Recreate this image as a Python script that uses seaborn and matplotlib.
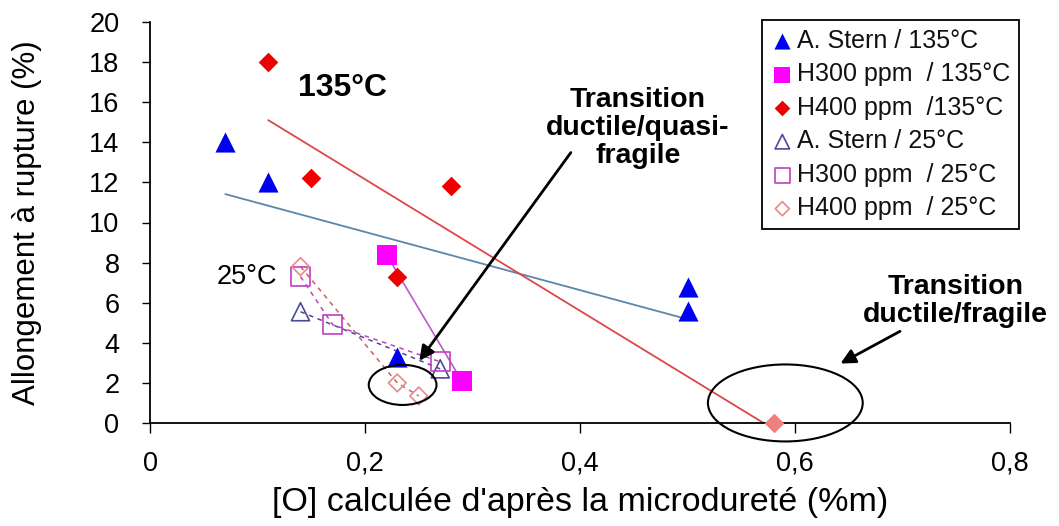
import numpy as np
import pandas as pd
import matplotlib
matplotlib.use("Agg")
import matplotlib.pyplot as plt
from matplotlib.patches import Ellipse
import seaborn as sns

# ---------------- data ----------------
stern_135_x = [0.07, 0.11, 0.23, 0.50, 0.50]
stern_135_y = [14.0, 12.0, 3.3, 6.8, 5.6]

h300_135_x = [0.22, 0.29]
h300_135_y = [8.4, 2.1]

h400_135_x = [0.11, 0.15, 0.28, 0.23, 0.58]
h400_135_y = [18.0, 12.2, 11.8, 7.3, 0.0]

stern_25_x = [0.14, 0.27]
stern_25_y = [5.55, 2.7]

h300_25_x = [0.14, 0.17, 0.27]
h300_25_y = [7.3, 4.9, 3.05]

h400_25_x = [0.14, 0.23, 0.25]
h400_25_y = [7.8, 2.0, 1.35]

x_ticks = [0, 0.2, 0.4, 0.6, 0.8]
x_tick_labels = ["0", "0,2", "0,4", "0,6", "0,8"]
y_ticks = list(range(0, 21, 2))

# ---------------- style ----------------
sns.set_style("ticks")
plt.rcParams["font.family"] = ["Liberation Sans", "DejaVu Sans"]
plt.rcParams["text.color"] = "black"
plt.rcParams["axes.labelcolor"] = "black"

W, H = 1059, 526
fig = plt.figure(figsize=(W / 100, H / 100), dpi=100)
ax = fig.add_axes([150 / W, 1 - 423 / H, (1010 - 150) / W, (423 - 22) / H])

BLUE = "#0000f0"
MAGENTA = "#ff00ff"
RED = "#ee0000"
SALMON = "#f08080"
E_BLUE = "#4a4a9a"
E_MAG = "#c040c0"
E_SAL = "#e58a8a"

# trend lines (135 °C)
sns.regplot(x=stern_135_x, y=stern_135_y, scatter=False, ci=None, truncate=True,
            color="#5d86aa", line_kws=dict(lw=1.3, zorder=1), ax=ax)
sns.regplot(x=h400_135_x, y=h400_135_y, scatter=False, ci=None, truncate=True,
            color="#dc4848", line_kws=dict(lw=1.3, zorder=1), ax=ax)

# connecting lines
sns.lineplot(x=h300_135_x, y=h300_135_y, color="#b95cc8", lw=1.2, ax=ax,
             legend=False, zorder=1)
sns.lineplot(x=stern_25_x, y=stern_25_y, color=E_BLUE, lw=1.1, ls=(0, (3, 3)),
             ax=ax, legend=False, zorder=1)
sns.lineplot(x=h300_25_x, y=h300_25_y, color=E_MAG, lw=1.1, ls=(0, (3, 3)),
             ax=ax, legend=False, zorder=1)
sns.lineplot(x=h400_25_x, y=h400_25_y, color="#c86060", lw=1.1, ls=(0, (3, 3)),
             ax=ax, legend=False, zorder=1)

# markers
sns.scatterplot(x=stern_135_x, y=stern_135_y, marker="^", s=14.5 ** 2,
                color=BLUE, edgecolor=BLUE, linewidth=0, label="A. Stern / 135°C",
                ax=ax, zorder=3, clip_on=False)
sns.scatterplot(x=h300_135_x, y=h300_135_y, marker="s", s=14 ** 2,
                color=MAGENTA, edgecolor=MAGENTA, linewidth=0,
                label="H300 ppm  / 135°C", ax=ax, zorder=3, clip_on=False)
sns.scatterplot(x=h400_135_x[:4], y=h400_135_y[:4], marker="D", s=10 ** 2,
                color=RED, edgecolor=RED, linewidth=0,
                label="H400 ppm  /135°C", ax=ax, zorder=3, clip_on=False)
sns.scatterplot(x=h400_135_x[4:], y=h400_135_y[4:], marker="D", s=10 ** 2,
                color=SALMON, edgecolor=SALMON, linewidth=0,
                ax=ax, zorder=3, clip_on=False)
sns.scatterplot(x=stern_25_x, y=stern_25_y, marker="^", s=13 ** 2,
                facecolor="none", edgecolor=E_BLUE, linewidth=1.2,
                label="A. Stern / 25°C", ax=ax, zorder=3, clip_on=False)
sns.scatterplot(x=h300_25_x, y=h300_25_y, marker="s", s=13.5 ** 2,
                facecolor="none", edgecolor=E_MAG, linewidth=1.2,
                label="H300 ppm  / 25°C", ax=ax, zorder=3, clip_on=False)
sns.scatterplot(x=h400_25_x, y=h400_25_y, marker="D", s=9 ** 2,
                facecolor="none", edgecolor=E_SAL, linewidth=1.2,
                label="H400 ppm  / 25°C", ax=ax, zorder=3, clip_on=False)

# axes
ax.set_xlim(0, 0.8)
ax.set_ylim(0, 20)
ax.set_xticks(x_ticks)
ax.set_xticklabels(x_tick_labels)
ax.set_yticks(y_ticks)
sns.despine(ax=ax)
for s in ("left", "bottom"):
    ax.spines[s].set_color("black")
    ax.spines[s].set_linewidth(1.3)
ax.tick_params(axis="y", direction="out", length=6, width=1, pad=16,
               labelsize=19.5, colors="black")
ax.tick_params(axis="x", direction="out", length=7, width=1, pad=13,
               labelsize=19.5, colors="black")
ax.set_xlabel("[O] calculée d'après la microdureté (%m)", fontsize=24.5, labelpad=7)
ax.set_ylabel("Allongement à rupture (%)", fontsize=22.5, labelpad=34)

# legend
leg = ax.legend(loc="upper left", bbox_to_anchor=(0.712, 1.005), fontsize=18,
                frameon=True, fancybox=False, edgecolor="black", framealpha=1,
                handlelength=0.9, handletextpad=0.12, borderpad=0.35,
                labelspacing=0.38, markerscale=0.8, borderaxespad=0)
leg.get_frame().set_linewidth(1.3)
for t in leg.get_texts():
    t.set_color("#111111")

# annotations
ax.text(0.179, 16.7, "135°C", fontsize=23, fontweight="bold", ha="center", va="center")
ax.text(0.09, 7.28, "25°C", fontsize=19.5, ha="center", va="center")
ax.text(0.454, 14.7, "Transition\nductile/quasi-\nfragile", fontsize=20.5,
        fontweight="bold", ha="center", va="center", linespacing=1.1)
ax.text(0.749, 6.06, "Transition\nductile/fragile", fontsize=20.5,
        fontweight="bold", ha="center", va="center", linespacing=1.1,
        clip_on=False)

ax.annotate("", xy=(0.249, 2.99), xytext=(0.393, 13.6),
            arrowprops=dict(arrowstyle="-|>", lw=2, color="black", mutation_scale=22),
            annotation_clip=False)
ax.annotate("", xy=(0.64, 2.9), xytext=(0.70, 4.64),
            arrowprops=dict(arrowstyle="-|>", lw=2, color="black", mutation_scale=22),
            annotation_clip=False)

ax.add_patch(Ellipse((0.235, 1.9), 0.063, 2.0, fill=False, edgecolor="black",
                     lw=1.5, clip_on=False, zorder=4))
ax.add_patch(Ellipse((0.591, 1.0), 0.144, 3.84, fill=False, edgecolor="black",
                     lw=1.5, clip_on=False, zorder=4))

fig.savefig("out.png", dpi=100)
